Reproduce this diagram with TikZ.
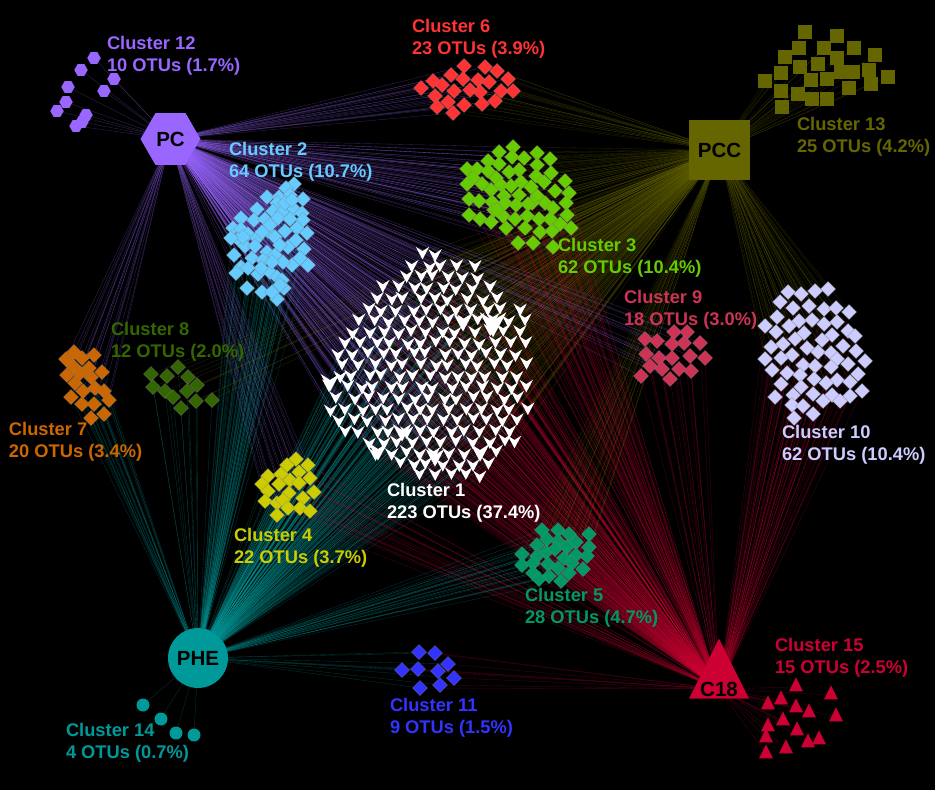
\documentclass[tikz,border=0pt]{standalone}
\usepackage{fontspec}
\setmainfont{Liberation Sans}
\usetikzlibrary{backgrounds,shapes.geometric}

\definecolor{PCline}{HTML}{9966FF}
\definecolor{PCCline}{HTML}{666600}
\definecolor{PHEline}{HTML}{009999}
\definecolor{Cline}{HTML}{CC0033}
\definecolor{c2col}{HTML}{66CCFF}
\definecolor{c3col}{HTML}{66CC00}
\definecolor{c4col}{HTML}{CCCC00}
\definecolor{c5col}{HTML}{009966}
\definecolor{c6col}{HTML}{FF3333}
\definecolor{c7col}{HTML}{CC6600}
\definecolor{c8col}{HTML}{336600}
\definecolor{c9col}{HTML}{CC3355}
\definecolor{c10col}{HTML}{CCCCFF}
\definecolor{c11col}{HTML}{3333FF}

\tikzset{
  every node/.style={inner sep=0pt,outer sep=0pt},
  otudiamond/.style={diamond,fill=#1,draw=black!50,line width=0.25pt,minimum size=15pt},
  otusquare/.style={rectangle,fill=#1,minimum size=14pt},
  otuhex/.style={regular polygon,regular polygon sides=6,fill=#1,minimum size=13.5pt},
  otucircle/.style={circle,fill=#1,minimum size=13pt},
  otutri/.style={isosceles triangle,isosceles triangle stretches,shape border rotate=90,fill=#1,
    minimum width=14pt,minimum height=14pt},
  otuvee/.style={dart,dart tip angle=56,dart tail angle=118,shape border rotate=270,fill=white,inner sep=#1},
  otuvee/.default=2.15pt,
  hubtext/.style={text=black,font=\bfseries\fontsize{20.5}{22}\selectfont},
  otulabel/.style={anchor=west,align=left,text=#1,font=\bfseries\fontsize{18.3}{22}\selectfont},
  link/.style={line width=0.35pt,opacity=0.33}
}

% first pass: the OTU nodes, second pass: their links to the hubs
\newcommand{\otunodes}[4]{
  \foreach \pos [count=\i] in {#4} \node[#2] (#1n\i) at \pos {};
}
\newcommand{\otulinks}[4]{
  \foreach \pos [count=\i] in {#4}
    \foreach \hub in {#3} \draw[link,draw=\hub line] (\hub) -- (#1n\i);
}
\newcommand{\allclusters}{
  % cluster 1
  \foreach \row/\rowy/\xmin/\xmax in {0/255/420/448,1/266/405/480,2/277/392/485,3/288/375/495,
      4/299/365/505,5/310/357/518,6/321/352/525,7/332/347/530,8/343/340/532,9/354/334/532,
      10/365/331/532,11/376/329/530,12/387/327/530,13/398/326/530,14/409/329/528,15/420/335/522,
      16/431/345/522,17/442/353/520,18/453/370/505,19/464/392/492,20/475/412/485} {
    \foreach \k in {21,...,36} {
      \pgfmathsetmacro{\xpos}{15*\k+7.5*mod(\row,2)}
      \pgfmathtruncatemacro{\inrow}{and(\xpos>=\xmin,\xpos<=\xmax)}
      \ifnum\inrow=1
        \pgfmathsetmacro{\px}{\xpos+3*rand}
        \pgfmathsetmacro{\py}{\rowy+2*rand}
        \otucluster{a\row x\k}{otuvee}{PC,PCC,PHE,C}{(\px,\py)}
      \fi
    }
  }
  \otucluster{b}{otuvee=3pt}{PC,PCC,PHE,C}{(463,323),(330,383),(402,433),(435,458),(378,452),(480,453)}
  \otucluster{d}{otuvee=4.3pt}{PC,PCC,PHE,C}{(493,325)}

  \otucluster{ca}{otudiamond=c2col}{PC,PHE}{(294,184),(286,188),(303,199),(267,197),(279,197),(277,203),(257,209),(294,209),
    (273,211),(282,212),(302,213),(241,218),(254,220),(265,219),(278,218),(303,220),(297,228),(285,231),(268,231),(307,233),
    (233,228),(241,229),(248,234),(257,238),(275,237),(238,239),(245,246),(288,247),(267,252),(304,249),(234,255),(252,258),
    (275,255),(263,260),(292,265),(308,265),(241,267),(236,273),(258,274),(270,272),(277,277),(282,280),(247,288),(262,292),
    (284,288),(277,299),(290,195),(285,203),(270,225),(262,232),(290,219),(296,240),(280,245),(255,246),(243,237),(231,238),
    (261,268),(283,262),(272,262),(248,268),(280,285),(300,258),(272,292),(292,200)}
  \otucluster{cb}{otudiamond=c3col}{PC,PCC,C}{(513,147),(499,152),(537,153),(512,157),(524,158),(550,159),(488,161),(499,164),
    (537,165),(467,169),(477,169),(488,171),(519,170),(509,172),(551,173),(536,176),(473,178),(496,178),(565,181),(467,184),
    (482,184),(521,182),(544,182),(501,185),(511,186),(531,187),(491,190),(555,191),(569,193),(519,195),(504,196),(537,196),
    (469,199),(479,201),(492,202),(505,203),(545,203),(566,203),(516,205),(532,203),(528,204),(553,208),(494,210),(503,216),
    (469,215),(527,216),(515,219),(539,219),(550,219),(567,215),(480,219),(491,222),(560,224),(506,228),(525,228),(571,228),
    (540,232),(552,231),(518,243),(533,243),(553,247),(497,210)}
  \otucluster{cc}{otudiamond=c4col}{PC,PHE,C}{(296,459),(287,465),(308,465),(268,476),(281,474),(299,472),(310,478),(262,484),
    (279,484),(290,480),(299,483),(268,491),(289,493),(314,492),(303,498),(265,501),(277,503),(283,500),(288,508),(300,508),
    (310,511),(277,515)}
  \otucluster{cd}{otudiamond=c5col}{PCC,PHE,C}{(542,530),(558,530),(589,534),(569,534),(547,539),(558,541),(576,542),(537,545),
    (567,547),(589,547),(546,552),(555,549),(522,554),(537,556),(576,555),(587,556),(564,558),(522,565),(533,563),(548,564),
    (572,563),(558,568),(583,569),(533,573),(569,573),(549,576),(539,579),(561,581)}
  \otucluster{ce}{otudiamond=c6col}{PC,PCC}{(464,66),(485,67),(497,71),(451,75),(508,79),(463,79),(478,80),(489,82),(433,81),
    (442,85),(421,88),(454,91),(470,90),(480,92),(501,91),(513,91),(435,96),(448,102),(495,101),(482,104),(464,105),(437,107),(453,113)}
  \otucluster{cf}{otudiamond=c7col}{PC,PHE}{(74,352),(94,355),(66,359),(82,358),(73,366),(89,368),(102,372),(67,375),(80,373),
    (91,377),(75,383),(95,388),(83,391),(104,391),(71,397),(109,400),(82,404),(94,404),(104,414),(91,418)}
  \otucluster{cg}{otudiamond=c8col}{PCC,PHE}{(151,374),(178,367),(167,376),(188,377),(153,387),(197,385),(165,391),(187,391),
    (173,397),(196,401),(212,400),(181,408)}
  \otucluster{ch}{otudiamond=c9col}{PC,C}{(674,332),(687,332),(645,339),(657,341),(672,344),(684,343),(700,343),(646,354),
    (690,356),(659,358),(672,358),(705,358),(650,366),(662,369),(679,369),(691,371),(641,376),(670,379)}
  \otucluster{ci}{otudiamond=c10col}{PCC,C}{(828,289),(815,291),(788,292),(801,294),(780,302),(809,306),(793,308),(824,309),
    (836,308),(849,312),(777,317),(799,321),(812,320),(837,322),(824,324),(789,326),(765,326),(776,332),(804,333),(848,331),
    (855,336),(832,335),(795,339),(822,340),(783,344),(843,346),(771,347),(807,348),(856,351),(818,352),(831,353),(792,355),
    (765,359),(781,358),(837,359),(865,361),(803,365),(815,366),(848,364),(831,367),(772,370),(787,373),(858,374),(800,375),
    (814,379),(837,380),(850,382),(826,383),(781,384),(801,387),(862,391),(813,394),(832,395),(793,395),(850,396),(775,397),
    (823,401),(840,401),(792,405),(803,406),(813,414),(794,418)}
  \otucluster{cj}{otudiamond=c11col}{PHE,C}{(419,652),(435,653),(448,664),(402,670),(418,669),(438,671),(454,678),(440,685),(420,688)}
  \otucluster{ck}{otuhex=PCline}{PC}{(94,58),(81,70),(68,87),(66,102),(57,111),(86,115),(82,122),(76,126),(114,79),(104,91)}
  \otucluster{cl}{otusquare=PCCline}{PCC}{(805,32),(837,36),(799,48),(824,48),(854,48),(785,57),(875,55),(837,58),(800,67),
    (818,64),(781,73),(765,81),(811,80),(827,79),(841,72),(853,72),(869,70),(888,77),(871,84),(849,88),(781,91),(798,94),(812,99),(827,99),(782,107)}
  \otucluster{cm}{otucircle=PHEline}{PHE}{(143,705),(161,719),(176,733),(194,735)}
  \otucluster{cn}{otutri=Cline}{C}{(796,687),(831,695),(781,700),(768,705),(796,708),(809,713),(836,717),(783,721),(768,727),
    (797,731),(766,738),(819,740),(808,743),(786,749),(766,754)}
}

\begin{document}
\begin{tikzpicture}[x=1pt,y=-1pt]
  \useasboundingbox (0,0) rectangle (935,790);

  \node[regular polygon,regular polygon sides=6,fill=PCline,minimum size=60pt,hubtext] (PC) at (170.5,139) {PC};
  \node[rectangle,fill=PCCline,minimum width=61pt,minimum height=60pt,hubtext] (PCC) at (719.5,150) {PCC};
  \node[circle,fill=PHEline,minimum size=60pt,hubtext] (PHE) at (198,658) {PHE};
  \node[isosceles triangle,isosceles triangle stretches,shape border rotate=90,fill=Cline,
    minimum width=60pt,minimum height=60pt,hubtext] (C) at (719,689) {C18};

  \pgfmathsetseed{4711}
  \let\otucluster\otunodes
  \allclusters
  \begin{pgfonlayer}{background}
    \fill[black] (0,0) rectangle (935,790);
    \let\otucluster\otulinks
    \allclusters
  \end{pgfonlayer}

  \node[otulabel=white] (l1) at (387,503) {Cluster 1\\223 OTUs (37.4\%)};
  \node[otulabel=c2col] (l2) at (229,162) {Cluster 2\\64 OTUs (10.7\%)};
  \node[otulabel=c3col] (l3) at (558,258) {Cluster 3\\62 OTUs (10.4\%)};
  \node[otulabel=c4col] (l4) at (234,548) {Cluster 4\\22 OTUs (3.7\%)};
  \node[otulabel=c5col] (l5) at (525,608) {Cluster 5\\28 OTUs (4.7\%)};
  \node[otulabel=c6col] (l6) at (412,39) {Cluster 6\\23 OTUs (3.9\%)};
  \node[otulabel=c7col] (l7) at (9,442) {Cluster 7\\20 OTUs (3.4\%)};
  \node[otulabel=c8col] (l8) at (111,342) {Cluster 8\\12 OTUs (2.0\%)};
  \node[otulabel=c9col] (l9) at (624,310) {Cluster 9\\18 OTUs (3.0\%)};
  \node[otulabel=c10col] (l10) at (782,445) {Cluster 10\\62 OTUs (10.4\%)};
  \node[otulabel=c11col] (l11) at (390,718) {Cluster 11\\9 OTUs (1.5\%)};
  \node[otulabel=PCline] (l12) at (107,56) {Cluster 12\\10 OTUs (1.7\%)};
  \node[otulabel=PCCline] (l13) at (797,137) {Cluster 13\\25 OTUs (4.2\%)};
  \node[otulabel=PHEline] (l14) at (66,743) {Cluster 14\\4 OTUs (0.7\%)};
  \node[otulabel=Cline] (l15) at (775,658) {Cluster 15\\15 OTUs (2.5\%)};
\end{tikzpicture}
\end{document}
